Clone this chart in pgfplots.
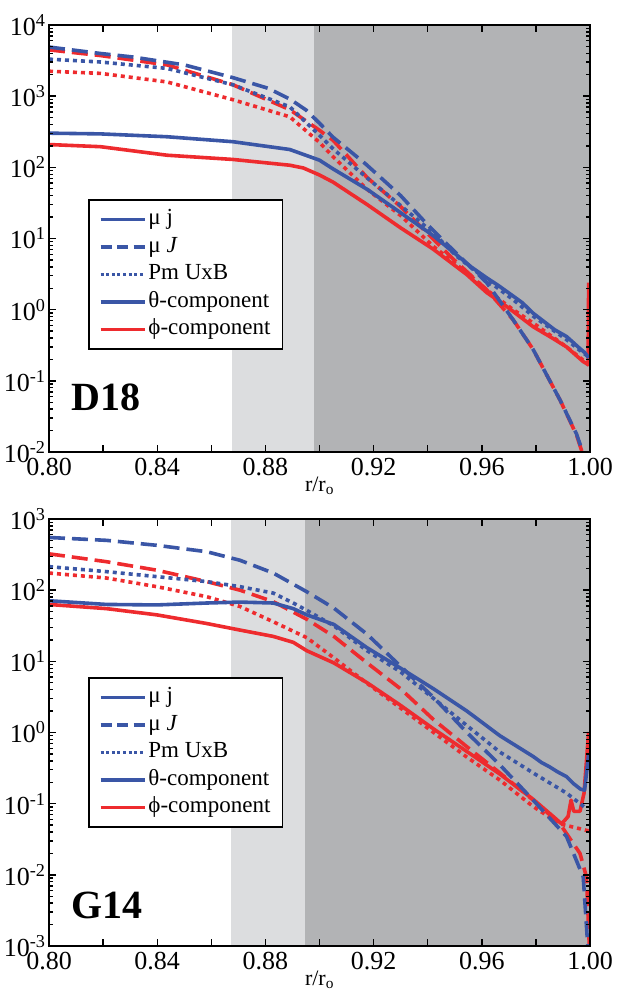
\documentclass[border=0pt]{standalone}
\usepackage{fontspec}
\setmainfont{Liberation Serif}
\usepackage{pgfplots}
\pgfplotsset{compat=1.18}
\definecolor{cblue}{HTML}{3A56A6}
\definecolor{cred}{HTML}{EE2B2E}
\definecolor{lgray}{HTML}{DCDDDF}
\definecolor{dgray}{HTML}{B2B3B5}
\pgfplotsset{legend image code/.code={\draw[#1, line width=3.6pt] (0pt,0pt) -- (44pt,0pt);}}
\tikzset{
  solidl/.style={line width=3.6pt, line join=round},
  dashl/.style={line width=3.6pt, dash pattern=on 16pt off 7pt},
  dotl/.style={line width=3.6pt, dash pattern=on 4pt off 4pt},
  ldash/.style={dash pattern=on 11pt off 5.5pt},
  ldot/.style={dash pattern=on 3pt off 2.6pt},
}
\begin{document}
\begin{tikzpicture}
\useasboundingbox (0,0) rectangle (623pt,1006pt);
% ---------------- D18 ----------------
\begin{axis}[width=541pt, height=427pt, scale only axis, anchor=south west, at={(49pt,554pt)},
    xmin=0.8, xmax=1.0, ymode=log, ymin=1e-2, ymax=1e4,
    xtick={0.80,0.82,0.84,0.86,0.88,0.90,0.92,0.94,0.96,0.98,1.00},
    xticklabels={0.80,,0.84,,0.88,,0.92,,0.96,,1.00},
    ytick={1e-2,1e-1,1,10,100,1000,10000},
    yticklabels={10\textsuperscript{-2},10\textsuperscript{-1},10\textsuperscript{0},10\textsuperscript{1},10\textsuperscript{2},10\textsuperscript{3},10\textsuperscript{4}},
    tick align=inside, major tick length=7pt, minor tick length=4pt,
    axis line style={line width=2pt},
    tick style={line width=1.4pt, black},
    axis on top,
    ticklabel style={font=\fontsize{26}{26}\selectfont},
    xticklabel style={yshift=-3pt},
    xlabel={r/r\textsubscript{o}},
    xlabel style={font=\fontsize{22}{22}\selectfont, at={(axis description cs:0.5,-0.08)}, anchor=center},
    legend cell align=left,
    legend style={at={(0.072,0.5925)}, anchor=north west, draw=black, line width=1.8pt, fill=white,
      font=\fontsize{23}{23}\selectfont, inner xsep=10pt, inner ysep=7pt,
      nodes={text height=16pt, text depth=5pt, inner sep=2pt, fill=none}, row sep=2.5pt}]
\addplot[fill=lgray, draw=none, forget plot] coordinates {(0.8677,1e-3) (0.8677,1e5) (0.898,1e5) (0.898,1e-3)};
\addplot[fill=dgray, draw=none, forget plot] coordinates {(0.898,1e-3) (0.898,1e5) (1.01,1e5) (1.01,1e-3)};
\addlegendimage{cblue}\addlegendentry{μ j}
\addlegendimage{cblue, ldash}\addlegendentry{μ \textit{J}}
\addlegendimage{cblue, ldot}\addlegendentry{Pm UxB}
\addlegendimage{cblue}\addlegendentry{θ-component}
\addlegendimage{cred}\addlegendentry{ϕ-component}
% red dotted
\addplot[cred, dotl, forget plot] coordinates {(0.800,2240) (0.819,2090) (0.8436,1585) (0.868,891) (0.889,513) (0.900,224) (0.905,141) (0.9176,49) (0.930,21) (0.942,7.8) (0.9545,3.3) (0.9618,1.9) (0.9716,1.0) (0.979,0.65) (0.9913,0.30) (0.9975,0.195) (1.0,0.16)};
% red dashed
\addplot[cred, dashl, forget plot] coordinates {(0.800,4470) (0.819,3720) (0.8436,2750) (0.868,1445) (0.889,646) (0.900,331) (0.905,240) (0.9176,72) (0.930,28) (0.9495,5.1) (0.9618,1.9) (0.9716,0.72) (0.979,0.275) (0.9889,0.054) (0.995,0.0174) (0.9975,0.0089) (0.999,0.003)};
% red solid
\addplot[cred, solidl, forget plot] coordinates {(0.800,209) (0.819,195) (0.8436,148) (0.868,129) (0.889,107) (0.894,98) (0.900,78) (0.905,62) (0.9176,30) (0.930,14.1) (0.942,7.1) (0.9545,3.1) (0.9618,1.74) (0.969,1.12) (0.979,0.575) (0.986,0.40) (0.9913,0.30) (0.9975,0.186) (0.9993,0.17) (0.9995,2.4)};
% blue dotted
\addplot[cblue, dotl, forget plot] coordinates {(0.800,3310) (0.819,3020) (0.8436,2455) (0.868,1445) (0.889,708) (0.900,282) (0.905,182) (0.9176,71) (0.930,29) (0.942,12) (0.9508,5.6) (0.9618,2.63) (0.9716,1.38) (0.979,0.81) (0.9913,0.38) (0.9975,0.245) (0.9995,0.22)};
% blue dashed
\addplot[cblue, dashl, forget plot] coordinates {(0.800,4900) (0.819,3980) (0.831,3550) (0.850,2750) (0.868,1820) (0.881,1290) (0.889,912) (0.895,640) (0.900,417) (0.905,265) (0.917,112) (0.930,40) (0.940,15.5) (0.9495,6.8) (0.9618,2.4) (0.9716,0.72) (0.979,0.275) (0.9889,0.054) (0.995,0.018) (0.9975,0.0095) (0.999,0.003)};
% blue solid
\addplot[cblue, solidl, forget plot] coordinates {(0.800,302) (0.819,295) (0.8436,269) (0.868,229) (0.889,178) (0.900,126) (0.905,95) (0.918,48) (0.930,23) (0.942,11) (0.951,5.75) (0.956,4.0) (0.9618,2.8) (0.966,2.2) (0.9716,1.55) (0.975,1.25) (0.979,0.89) (0.983,0.68) (0.987,0.52) (0.9913,0.42) (0.994,0.34) (0.996,0.29) (0.998,0.25) (0.9995,0.21)};
\node[font=\fontsize{40}{40}\selectfont\bfseries] at (rel axis cs:0.105,0.129) {D18};
\end{axis}
% ---------------- G14 ----------------
\begin{axis}[width=541pt, height=427pt, scale only axis, anchor=south west, at={(49pt,60pt)},
    xmin=0.8, xmax=1.0, ymode=log, ymin=1e-3, ymax=1e3,
    xtick={0.80,0.82,0.84,0.86,0.88,0.90,0.92,0.94,0.96,0.98,1.00},
    xticklabels={0.80,,0.84,,0.88,,0.92,,0.96,,1.00},
    ytick={1e-3,1e-2,1e-1,1,10,100,1000},
    yticklabels={10\textsuperscript{-3},10\textsuperscript{-2},10\textsuperscript{-1},10\textsuperscript{0},10\textsuperscript{1},10\textsuperscript{2},10\textsuperscript{3}},
    tick align=inside, major tick length=7pt, minor tick length=4pt,
    axis line style={line width=2pt},
    tick style={line width=1.4pt, black},
    axis on top,
    ticklabel style={font=\fontsize{26}{26}\selectfont},
    xticklabel style={yshift=-3pt},
    xlabel={r/r\textsubscript{o}},
    xlabel style={font=\fontsize{22}{22}\selectfont, at={(axis description cs:0.5,-0.08)}, anchor=center},
    legend cell align=left,
    legend style={at={(0.072,0.63)}, anchor=north west, draw=black, line width=1.8pt, fill=white,
      font=\fontsize{23}{23}\selectfont, inner xsep=10pt, inner ysep=7pt,
      nodes={text height=16pt, text depth=5pt, inner sep=2pt, fill=none}, row sep=2.5pt}]
\addplot[fill=lgray, draw=none, forget plot] coordinates {(0.8673,1e-4) (0.8673,1e4) (0.8946,1e4) (0.8946,1e-4)};
\addplot[fill=dgray, draw=none, forget plot] coordinates {(0.8946,1e-4) (0.8946,1e4) (1.01,1e4) (1.01,1e-4)};
\addlegendimage{cblue}\addlegendentry{μ j}
\addlegendimage{cblue, ldash}\addlegendentry{μ \textit{J}}
\addlegendimage{cblue, ldot}\addlegendentry{Pm UxB}
\addlegendimage{cblue}\addlegendentry{θ-component}
\addlegendimage{cred}\addlegendentry{ϕ-component}
% red dotted
\addplot[cred, dotl, forget plot] coordinates {(0.800,174) (0.8213,148) (0.8398,112) (0.8583,81) (0.8706,59) (0.8829,36) (0.8953,21.5) (0.9053,11.2) (0.9176,4.9) (0.930,2.2) (0.9422,1.0) (0.9545,0.45) (0.9667,0.214) (0.979,0.091) (0.9889,0.052) (1.0,0.041)};
% red dashed
\addplot[cred, dashl, forget plot] coordinates {(0.800,324) (0.8213,251) (0.8398,191) (0.8583,132) (0.8706,100) (0.8829,69) (0.8953,39) (0.9053,22.4) (0.9176,9.5) (0.930,4.1) (0.9422,1.51) (0.9545,0.63) (0.9667,0.27) (0.979,0.112) (0.9889,0.052) (0.9963,0.020) (0.9987,0.0093) (0.9997,0.0011) (0.9999,0.0005)};
% red solid
\addplot[cred, solidl, forget plot] coordinates {(0.800,63) (0.8213,55) (0.8398,45) (0.8583,34) (0.8706,27.5) (0.8829,22.4) (0.8903,18.5) (0.8953,14.1) (0.9053,9.5) (0.9176,5.0) (0.930,2.4) (0.9422,1.12) (0.9545,0.54) (0.9667,0.26) (0.979,0.115) (0.9864,0.066) (0.9895,0.052) (0.9919,0.066) (0.9930,0.112) (0.9940,0.078) (0.9963,0.078) (0.9978,0.141) (0.9995,1.02)};
% blue dotted
\addplot[cblue, dotl, forget plot] coordinates {(0.800,214) (0.8213,182) (0.8398,155) (0.8583,132) (0.8706,112) (0.8829,91) (0.8903,66) (0.8953,52) (0.9053,31.6) (0.9176,14.1) (0.930,7.1) (0.9422,3.0) (0.9545,1.25) (0.9667,0.53) (0.979,0.27) (0.9913,0.141) (0.9987,0.085)};
% blue dashed
\addplot[cblue, dashl, forget plot] coordinates {(0.800,550) (0.8213,501) (0.8398,427) (0.8583,347) (0.8706,263) (0.8829,174) (0.8953,95) (0.9053,56) (0.9176,24) (0.930,8.5) (0.9422,3.1) (0.9545,1.0) (0.9667,0.35) (0.979,0.112) (0.9913,0.0347) (0.9975,0.0093) (0.9990,0.00126) (0.9995,0.0006)};
% blue solid
\addplot[cblue, solidl, forget plot] coordinates {(0.800,71) (0.8213,63) (0.8398,62) (0.8583,66) (0.8706,68) (0.8829,66) (0.8903,55) (0.8953,45) (0.9053,33) (0.9176,15.5) (0.930,8.0) (0.9422,4.1) (0.9545,2.0) (0.9667,0.9) (0.979,0.46) (0.982,0.38) (0.985,0.33) (0.988,0.28) (0.9913,0.24) (0.994,0.19) (0.9965,0.16) (0.998,0.155) (0.9995,0.5)};
\node[font=\fontsize{40}{40}\selectfont\bfseries] at (rel axis cs:0.108,0.096) {G14};
\end{axis}
\end{tikzpicture}
\end{document}
